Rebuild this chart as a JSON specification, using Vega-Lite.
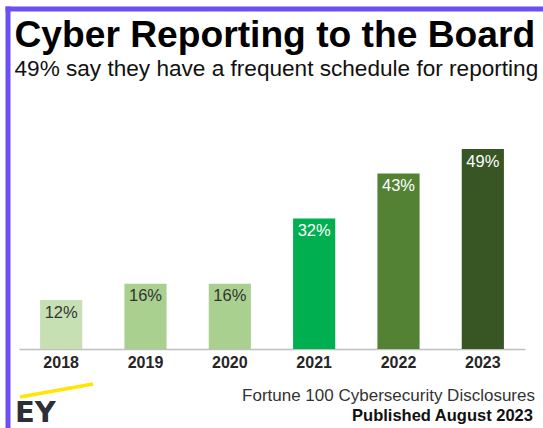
{
  "$schema": "https://vega.github.io/schema/vega-lite/v6.json",
  "autosize": {"type": "none"},
  "padding": {"left": 7.5, "top": 8.5, "right": 0, "bottom": 0},
  "width": 535.5,
  "height": 419.5,
  "background": "#ffffff",
  "config": {
    "view": {"stroke": null},
    "axisLeft": {"domainColor": "#6c4ef2", "domainWidth": 5, "domainCap": "square", "labels": false, "ticks": false, "grid": false},
    "axisTop": {"domainColor": "#6c4ef2", "domainWidth": 5, "domainCap": "square", "labels": false, "ticks": false, "grid": false}
  },
  "title": {
    "text": "Cyber Reporting to the Board",
    "subtitle": "49% say they have a frequent schedule for reporting",
    "anchor": "start",
    "frame": "group",
    "offset": -73.5,
    "dx": 7,
    "font": "Liberation Sans",
    "fontSize": 37.2,
    "fontWeight": "bold",
    "color": "#000000",
    "subtitleFont": "Liberation Sans",
    "subtitleFontSize": 22.6,
    "subtitleColor": "#111111",
    "subtitlePadding": 3
  },
  "datasets": {
    "bars": [
      {"year": "2018", "value": 0.12},
      {"year": "2019", "value": 0.16},
      {"year": "2020", "value": 0.16},
      {"year": "2021", "value": 0.32},
      {"year": "2022", "value": 0.43},
      {"year": "2023", "value": 0.49}
    ],
    "stripe": [
      {"px": 2.33, "py": -0.1176},
      {"px": 15.97, "py": -0.0858}
    ],
    "source": [{"px": 98.5, "py": -0.1275, "label": "Fortune 100 Cybersecurity Disclosures"}],
    "published": [{"px": 98.13, "py": -0.1765, "label": "Published August 2023"}],
    "logo": [{"px": 1.4, "py": -0.179, "label": "EY"}]
  },
  "layer": [
    {
      "data": {"name": "bars"},
      "encoding": {
        "x": {
          "field": "year",
          "type": "nominal",
          "sort": null,
          "scale": {"range": [11.5, 517.5], "paddingInner": 0.5, "paddingOuter": 0.25},
          "axis": {
            "orient": "bottom",
            "offset": -79,
            "title": null,
            "labelAngle": 0,
            "ticks": false,
            "grid": false,
            "domainColor": "#bfbfbf",
            "domainWidth": 1.5,
            "labelFont": "Liberation Sans",
            "labelFontSize": 16,
            "labelFontWeight": "bold",
            "labelColor": "#262626",
            "labelPadding": 5
          }
        },
        "y": {
          "field": "value",
          "type": "quantitative",
          "scale": {"domain": [-0.1936, 0.8346], "nice": false, "zero": false},
          "axis": {"title": null, "orient": "left", "labels": false, "ticks": false, "grid": false, "domain": true, "domainColor": "#6c4ef2", "domainWidth": 5, "domainCap": "square"}
        }
      },
      "layer": [
        {
          "mark": {"type": "bar"},
          "encoding": {
            "y2": {"datum": 0},
            "color": {
              "field": "year",
              "type": "nominal",
              "scale": {
                "domain": ["2018", "2019", "2020", "2021", "2022", "2023"],
                "range": ["#c6e0b4", "#a9d08e", "#a9d08e", "#00b050", "#548235", "#375623"]
              },
              "legend": null
            }
          }
        },
        {
          "mark": {"type": "text", "baseline": "alphabetic", "align": "center", "dy": 17.5, "font": "Liberation Sans", "fontSize": 16.5},
          "encoding": {
            "text": {"field": "value", "type": "quantitative", "format": ".0%"},
            "color": {"condition": {"test": "datum.value > 0.2", "value": "#ffffff"}, "value": "#333333"}
          }
        }
      ]
    },
    {
      "encoding": {
        "x": {
          "field": "px",
          "type": "quantitative",
          "scale": {"domain": [0, 100], "nice": false, "zero": false},
          "axis": {"orient": "top", "title": null, "labels": false, "ticks": false, "grid": false}
        },
        "y": {
          "field": "py",
          "type": "quantitative",
          "axis": {"title": null, "orient": "left", "labels": false, "ticks": false, "grid": false, "domain": true, "domainColor": "#6c4ef2", "domainWidth": 5, "domainCap": "square"}
        }
      },
      "layer": [
        {
          "data": {"name": "stripe"},
          "mark": {"type": "line", "color": "#ffe600", "strokeWidth": 3.5},
          "encoding": {}
        },
        {
          "data": {"name": "source"},
          "mark": {"type": "text", "align": "right", "baseline": "alphabetic", "font": "Liberation Sans", "fontSize": 17, "color": "#333333"},
          "encoding": {"text": {"field": "label"}}
        },
        {
          "data": {"name": "published"},
          "mark": {"type": "text", "align": "right", "baseline": "alphabetic", "font": "Liberation Sans", "fontSize": 16.5, "fontWeight": "bold", "color": "#111111"},
          "encoding": {"text": {"field": "label"}}
        },
        {
          "data": {"name": "logo"},
          "mark": {"type": "text", "align": "left", "baseline": "alphabetic", "font": "DejaVu Sans", "fontSize": 29, "fontWeight": "bold", "color": "#2e2e38"},
          "encoding": {"text": {"field": "label"}}
        }
      ]
    }
  ],
  "resolve": {"scale": {"x": "independent"}, "axis": {"x": "independent"}}
}
